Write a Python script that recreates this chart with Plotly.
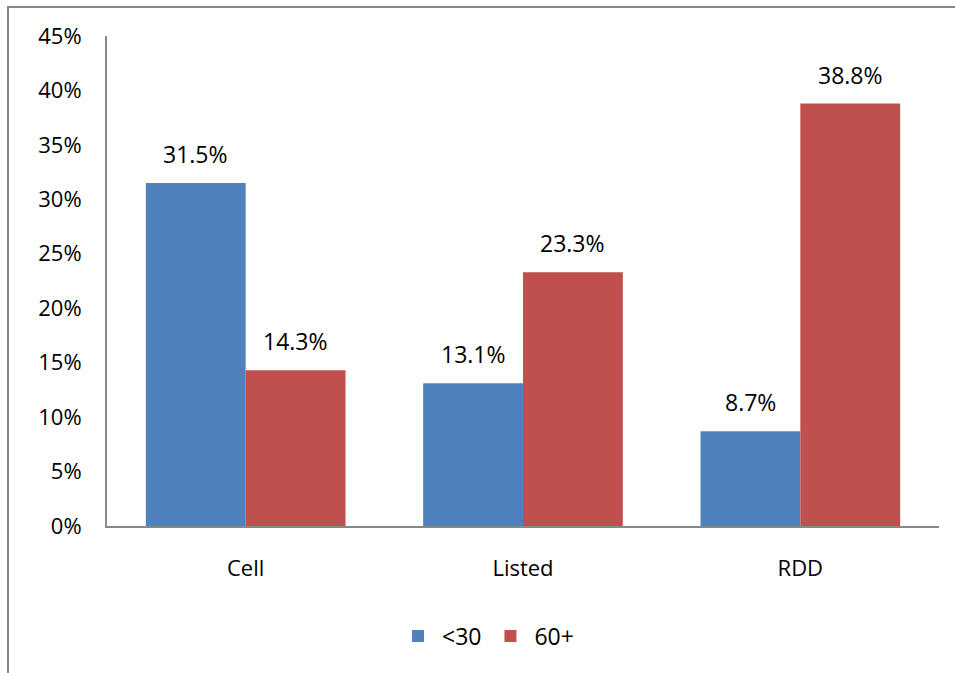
import plotly.graph_objects as go

categories = ["Cell", "Listed", "RDD"]
under30 = [31.5, 13.1, 8.7]
over60 = [14.3, 23.3, 38.8]
series_names = ["<30", "60+"]
y_ticks = [0, 5, 10, 15, 20, 25, 30, 35, 40, 45]

BLUE = "#4F81BD"
RED = "#C0504D"
FONT = "Open Sans"

fig = go.Figure()
fig.add_trace(go.Bar(x=categories, y=under30, name=series_names[0], marker_color=BLUE,
                     marker_line_width=0))
fig.add_trace(go.Bar(x=categories, y=over60, name=series_names[1], marker_color=RED,
                     marker_line_width=0))

annotations = []
for i, (a, b) in enumerate(zip(under30, over60)):
    for off, v in ((-0.18, a), (0.18, b)):
        annotations.append(dict(x=i + off, y=v, xref="x", yref="y", text=f"{v:.1f}%",
                                showarrow=False, yanchor="bottom", yshift=11,
                                font=dict(family=FONT, size=23, color="black")))

W, H = 955, 673
L, R, T, B = 107, 16, 36, 147
pw, ph = W - L - R, H - T - B

def px(xp):
    return (xp - L) / pw

def py(yp):
    return (H - B - yp) / ph

fig.update_layout(
    width=W, height=H,
    margin=dict(l=L, r=R, t=T, b=B),
    paper_bgcolor="white", plot_bgcolor="white",
    barmode="group", bargap=0.28, bargroupgap=0,
    font=dict(family=FONT, size=22, color="black"),
    showlegend=True,
    legend=dict(orientation="h", x=px(394), xanchor="left", y=py(636), yanchor="middle",
                font=dict(family=FONT, size=23, color="black"), itemwidth=38,
                tracegroupgap=0),
    annotations=annotations,
    shapes=[dict(type="rect", xref="paper", yref="paper",
                 x0=px(8), x1=px(970), y0=py(690), y1=py(7),
                 line=dict(color="#888888", width=2), fillcolor="rgba(0,0,0,0)", layer="below")],
)
fig.update_xaxes(showline=True, linecolor="#888888", linewidth=2, showgrid=False,
                 ticks="", ticklabelstandoff=22, tickfont=dict(family=FONT, size=22))
fig.update_yaxes(range=[0, 45], tickvals=y_ticks, ticktext=[f"{t}%" for t in y_ticks],
                 showline=True, linecolor="#888888", linewidth=2, showgrid=False,
                 zeroline=False, ticks="", ticklabelstandoff=19,
                 tickfont=dict(family=FONT, size=22))

fig.write_html("out.html")
